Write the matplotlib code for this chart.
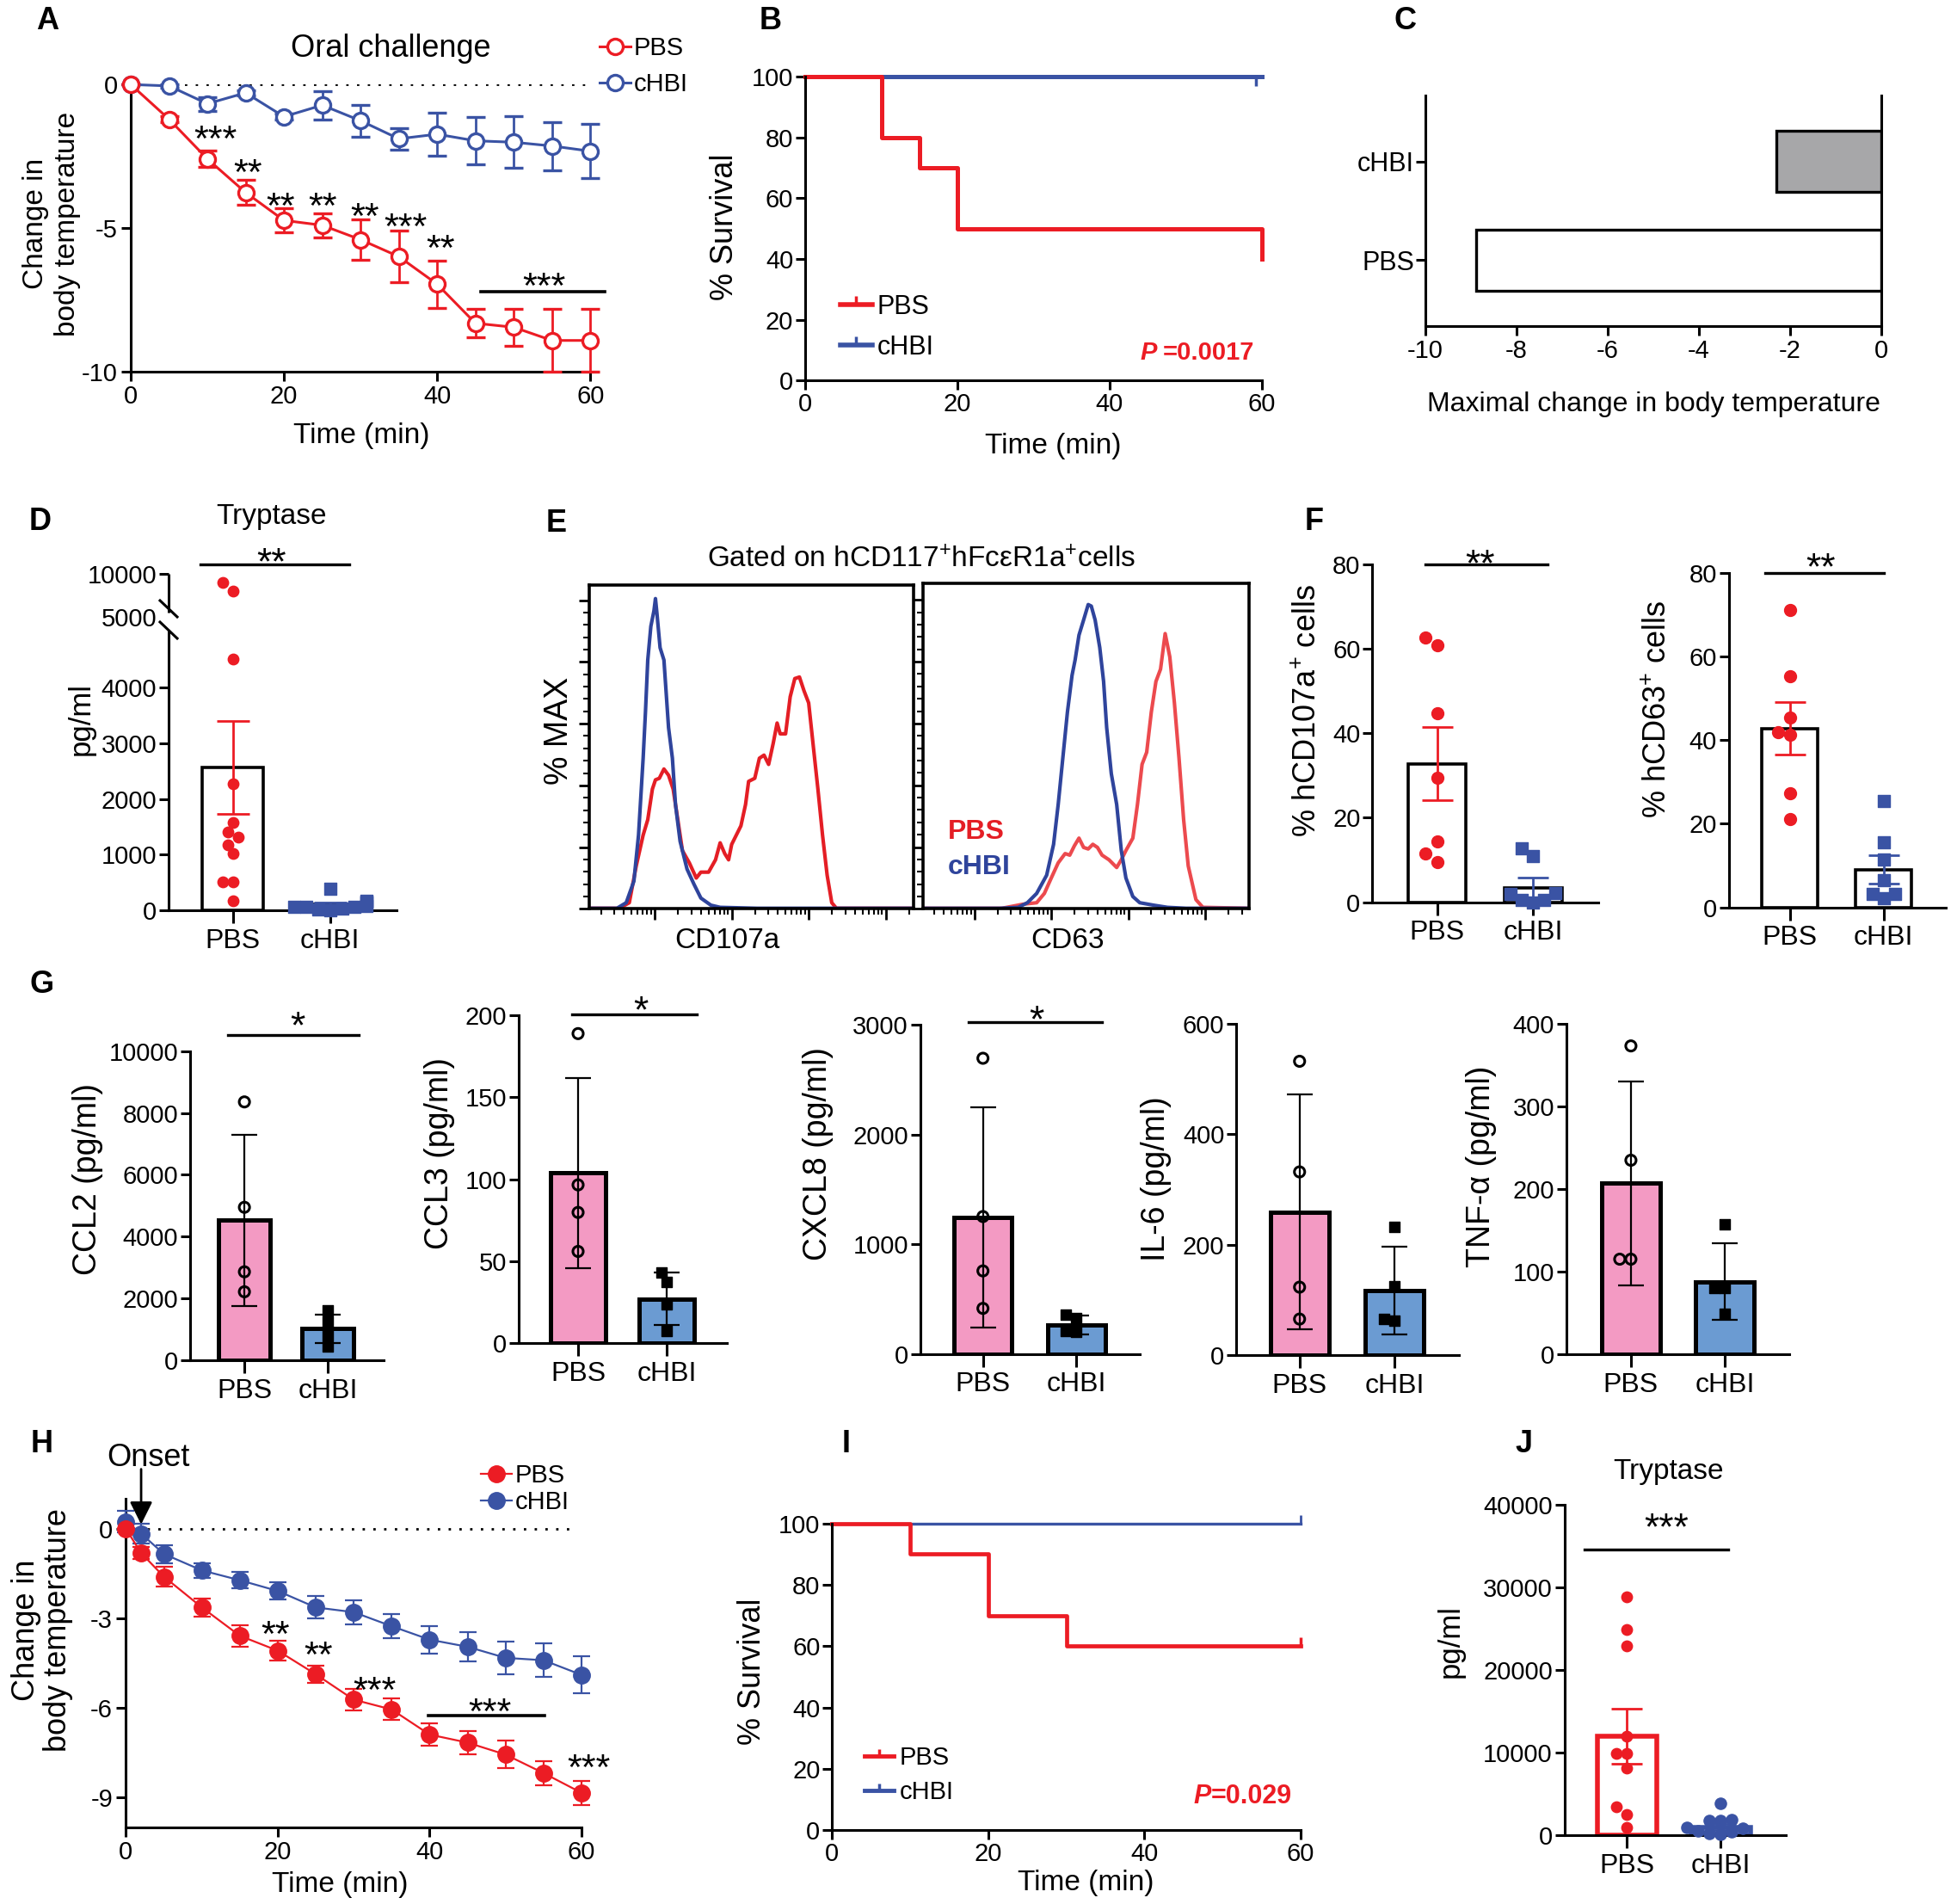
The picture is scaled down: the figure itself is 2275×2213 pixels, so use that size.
import numpy as np
import matplotlib
matplotlib.use("Agg")
import matplotlib.pyplot as plt
from matplotlib.lines import Line2D

plt.rcParams["font.family"] = ["Liberation Sans", "DejaVu Sans"]
plt.rcParams["mathtext.fontset"] = "custom"
plt.rcParams["mathtext.rm"] = "Liberation Sans"
plt.rcParams["mathtext.it"] = "Liberation Sans:italic"
plt.rcParams["mathtext.bf"] = "Liberation Sans:bold"
plt.rcParams["axes.unicode_minus"] = False
plt.rcParams["axes.linewidth"] = 2.2
plt.rcParams["xtick.labelsize"] = 21
plt.rcParams["ytick.labelsize"] = 21

RED = "#EC1C24"
BLUE = "#3A53A4"
PINK = "#F39AC3"
LBLUE = "#6B9BD2"
GREY = "#A7A7A9"

# ---------------- data ----------------
# A: oral challenge, change in body temperature (mean, SEM)
a_time = [0, 5, 10, 15, 20, 25, 30, 35, 40, 45, 50, 55, 60]
a_pbs = [0, -1.21, -2.59, -3.76, -4.73, -4.90, -5.40, -5.99, -6.95, -8.31, -8.45, -8.91, -8.91]
a_pbs_err = [0, 0.10, 0.28, 0.43, 0.42, 0.41, 0.70, 0.90, 0.83, 0.50, 0.65, 1.10, 1.10]
a_chbi = [0, -0.05, -0.67, -0.29, -1.12, -0.72, -1.26, -1.89, -1.73, -1.96, -2.01, -2.14, -2.32]
a_chbi_err = [0, 0.05, 0.24, 0.10, 0.10, 0.50, 0.55, 0.37, 0.75, 0.83, 0.90, 0.84, 0.95]

# B: survival
b_pbs_t = [0, 10, 15, 20, 60]
b_pbs_s = [100, 80, 70, 50, 40]
b_chbi_t = [0, 60]
b_chbi_s = [100, 100]
b_chbi_censor = [59.3]

# C: maximal change in body temperature
c_groups = ["PBS", "cHBI"]
c_max = [-8.88, -2.30]

# D: tryptase (pg/ml)
d_pbs = [166, 513, 513, 1021, 1175, 1313, 1401, 1572, 2279, 4513, 8037, 9003]
d_chbi = [30, 170, 150, 390, 140, 10, 60, 20, 60, 60, 80]
d_mean = [2566, 110]
d_sem = [833, 35]

# E: flow histograms (x in decades, y in % of max)
e1_blue_x = [0, 0.36, 0.48, 0.58, 0.64, 0.70, 0.73, 0.76, 0.80, 0.84, 0.86, 0.88, 0.92, 0.97, 1.03,
             1.08, 1.12, 1.18, 1.27, 1.36, 1.45, 1.58, 1.70, 2.18, 4.21]
e1_blue_y = [0.2, 0.2, 2.0, 9.0, 23.9, 48.8, 63.7, 80.6, 91.5, 96.5, 100.5, 95.5, 84.6, 80.6, 58.7,
             48.8, 33.8, 21.9, 12.9, 8.0, 3.5, 1.2, 0.5, 0.2, 0.2]
e1_red_x = [0, 0.39, 0.52, 0.61, 0.70, 0.76, 0.82, 0.86, 0.91, 0.97, 1.03, 1.09, 1.15, 1.21, 1.30,
            1.39, 1.45, 1.55, 1.64, 1.70, 1.76, 1.81, 1.85, 1.91, 1.97, 2.03, 2.07, 2.15, 2.21,
            2.27, 2.33, 2.39, 2.44, 2.48, 2.55, 2.61, 2.67, 2.73, 2.79, 2.85, 2.91, 2.97, 3.03,
            3.09, 3.15, 3.21, 4.21]
e1_red_y = [0.2, 0.2, 2.0, 13.9, 23.9, 28.9, 38.8, 41.8, 42.3, 45.3, 43.3, 38.8, 28.9, 18.9, 14.9,
            10.0, 11.9, 11.9, 15.9, 21.4, 17.9, 15.9, 20.9, 23.9, 26.9, 33.8, 41.3, 42.3, 48.8,
            49.8, 46.8, 53.7, 60.2, 56.7, 56.7, 68.7, 74.6, 75.1, 70.6, 66.7, 52.7, 38.8, 23.9,
            10.9, 2.0, 0.2, 0.2]
e2_blue_x = [0, 1.0, 1.24, 1.36, 1.48, 1.61, 1.70, 1.76, 1.82, 1.88, 1.94, 1.98, 2.03, 2.09, 2.15,
             2.19, 2.24, 2.30, 2.35, 2.39, 2.45, 2.52, 2.58, 2.64, 2.73, 2.82, 3.00, 3.18, 3.42, 4.24]
e2_blue_y = [0.2, 0.2, 0.5, 2.0, 5.0, 10.9, 20.9, 33.8, 48.8, 63.7, 75.6, 80.6, 88.6, 93.5, 98.5,
             98.0, 93.5, 84.6, 73.6, 58.7, 43.8, 33.8, 18.9, 10.0, 4.0, 2.0, 1.2, 0.5, 0.2, 0.2]
e2_red_x = [0, 1.03, 1.30, 1.48, 1.58, 1.67, 1.76, 1.85, 1.91, 1.97, 2.03, 2.09, 2.15, 2.21, 2.27,
            2.33, 2.42, 2.52, 2.58, 2.64, 2.73, 2.79, 2.85, 2.91, 2.97, 3.03, 3.09, 3.15, 3.21,
            3.27, 3.33, 3.39, 3.45, 3.55, 3.64, 4.24]
e2_red_y = [0.2, 0.2, 1.5, 2.0, 5.0, 10.0, 14.9, 17.9, 17.4, 20.4, 22.9, 19.9, 19.4, 20.9, 19.9,
            17.4, 15.9, 13.4, 15.9, 18.9, 22.9, 33.8, 46.8, 50.7, 63.7, 73.6, 77.6, 89.1, 81.6,
            66.7, 48.8, 28.9, 13.9, 3.0, 0.5, 0.2]

# F: % positive cells
f1_pbs = [62.7, 60.9, 44.8, 29.4, 14.3, 11.5, 9.5]
f1_chbi = [12.8, 11.0, 2.2, 2.0, 0.5, 0.5, 0.0]
f1_mean = [32.8, 3.3]
f1_sem = [8.7, 2.5]
f2_pbs = [71.1, 55.3, 45.4, 41.2, 41.9, 27.4, 21.1]
f2_chbi = [25.4, 15.6, 11.4, 6.5, 2.1, 3.3, 3.2]
f2_mean = [42.8, 9.0]
f2_sem = [6.3, 3.4]

# G: cytokines (pg/ml), mean and SD
ccl2_pbs = [8358, 4945, 2856, 2209]
ccl2_chbi = [1600, 1250, 800, 450]
ccl2_mean = [4527, 1015]
ccl2_sd = [2771, 453]
ccl3_pbs = [188.8, 96.5, 79.7, 55.9]
ccl3_chbi = [43.1, 37.5, 23.4, 7.5]
ccl3_mean = [103.7, 26.8]
ccl3_sd = [58, 16]
cxcl8_pbs = [2697, 1253, 757, 415]
cxcl8_chbi = [360, 330, 210, 200]
cxcl8_mean = [1248, 266]
cxcl8_sd = [1005, 85]
il6_pbs = [531.7, 331.7, 123.3, 65.6]
il6_chbi = [232, 125, 62, 66]
il6_mean = [259.4, 116.7]
il6_sd = [212, 79]
tnf_pbs = [372.9, 234.7, 115.1, 115.1]
tnf_chbi = [157.5, 80.6, 80.6, 49]
tnf_mean = [206.9, 88]
tnf_sd = [123, 46]

# H: change in body temperature after onset
h_time = [0, 2, 5, 10, 15, 20, 25, 30, 35, 40, 45, 50, 55, 60]
h_pbs = [0, -0.81, -1.60, -2.63, -3.58, -4.08, -4.87, -5.72, -6.05, -6.89, -7.16, -7.56, -8.18, -8.84]
h_pbs_err = [0, 0.2, 0.32, 0.3, 0.36, 0.33, 0.29, 0.35, 0.36, 0.37, 0.4, 0.46, 0.41, 0.4]
h_chbi = [0.24, -0.16, -0.84, -1.39, -1.72, -2.08, -2.63, -2.79, -3.26, -3.71, -3.95, -4.32, -4.40, -4.89]
h_chbi_err = [0.36, 0.32, 0.3, 0.25, 0.27, 0.29, 0.37, 0.41, 0.41, 0.46, 0.5, 0.54, 0.56, 0.62]

# I: survival
i_pbs_t = [0, 10, 20, 30, 60]
i_pbs_s = [100, 90, 70, 60, 60]
i_chbi_t = [0, 60]
i_chbi_s = [100, 100]
i_censor = [60]

# J: tryptase (pg/ml)
j_pbs = [28821, 24905, 22890, 11977, 9886, 9962, 8099, 3422, 2548, 951]
j_chbi = [3878, 1900, 1850, 1800, 950, 850, 100, 200, 400, 550]
j_mean = [11977, 1000]
j_sem = [3300, 380]

groups = ["PBS", "cHBI"]

# ---------------- helpers ----------------
W, H = 2275, 2213
fig = plt.figure(figsize=(W / 100, H / 100), dpi=100)


def axes_px(left, top, right, bottom):
    return fig.add_axes([left / W, 1 - bottom / H, (right - left) / W, (bottom - top) / H])


def ftext(x, y, s, **kw):
    kw.setdefault("ha", "center")
    kw.setdefault("va", "center")
    fig.text(x / W, 1 - y / H, s, **kw)


def panel(x, y, s):
    ftext(x, y + 3, s, fontsize=26, fontweight="bold")


def stars_px(x, y, s, size=32):
    base = y + 0.58 * size * 100 / 72
    fig.text(x / W, 1 - base / H, s, fontsize=size, ha="center", va="baseline")


def stars_data(ax, x, y, s, size=31):
    ax.annotate(s, (x, y), xytext=(0, -0.58 * size), textcoords="offset points",
                ha="center", va="baseline", fontsize=size, annotation_clip=False)


def hline_px(x0, x1, y, lw=2.4):
    fig.add_artist(Line2D([x0 / W, x1 / W], [1 - y / H, 1 - y / H], color="k", lw=lw))


def clean(ax, keep_right=False):
    ax.spines["top"].set_visible(False)
    if not keep_right:
        ax.spines["right"].set_visible(False)
    ax.tick_params(length=8, width=2.2, pad=3)


def noclip(cont):
    for art in cont.get_children():
        art.set_clip_on(False)


def swarm(ax, xc, vals, diam):
    pts = ax.transData.transform(np.column_stack([np.full(len(vals), float(xc)), vals]))
    ys = pts[:, 1]
    xpx = ax.transData.transform([[1, 0]])[0, 0] - ax.transData.transform([[0, 0]])[0, 0]
    step = diam * 0.5
    offs = np.zeros(len(vals))
    placed = []
    for i in np.argsort(ys):
        for k in (0, -1, 1, -2, 2, -3, 3, -4, 4, -5, 5, -6, 6):
            x = k * step
            if all((x - px) ** 2 + (ys[i] - py) ** 2 >= (0.95 * diam) ** 2 for px, py in placed):
                break
        offs[i] = x
        placed.append((x, ys[i]))
    return xc + offs / xpx


def cat_axis(ax, fs=23):
    ax.set_xticks([0, 1])
    ax.set_xticklabels(groups, fontsize=fs)
    ax.tick_params(axis="x", length=11, pad=4)


# ---------------- A ----------------
axA = axes_px(152, 98.2, 695.1, 432.1)
axA.set_xlim(0, 61)
axA.set_ylim(-10, 0)
clean(axA)
axA.axhline(0, xmax=59.7 / 61, color="k", ls=(0, (1, 3.5)), lw=2)
for y, e, c in ((a_chbi, a_chbi_err, BLUE), (a_pbs, a_pbs_err, RED)):
    eb = axA.errorbar(a_time, y, yerr=e, color=c, lw=2.2, marker="o", ms=13, mfc="white", mew=2.4,
                      capsize=8, capthick=2, elinewidth=2, zorder=3)
    noclip(eb)
axA.set_xticks([0, 20, 40, 60])
axA.set_yticks([0, -5, -10])
axA.set_yticklabels(["0", "-5", "-10"])
for t, y, s in zip([11, 15.3, 19.6, 25.0, 30.6, 35.9, 40.4, 54],
                   [-1.55, -2.73, -3.9, -3.9, -4.25, -4.6, -5.35, -6.68],
                   ["***", "**", "**", "**", "**", "***", "**", "***"]):
    stars_data(axA, t, y, s)
axA.plot([45.7, 61.9], [-7.2, -7.2], color="k", lw=2.6, clip_on=False)
hA = [Line2D([], [], color=RED, lw=2.2, marker="o", ms=13, mfc="white", mew=2.4),
      Line2D([], [], color=BLUE, lw=2.2, marker="o", ms=13, mfc="white", mew=2.4)]
axA.legend(hA, groups, loc="upper left", bbox_to_anchor=(697 / W, 1 - 42 / H),
           bbox_transform=fig.transFigure, frameon=False, fontsize=21, handlelength=1.25,
           handletextpad=0.1, labelspacing=0.48, borderpad=0, borderaxespad=0)
ftext(454, 57, "Oral challenge", fontsize=26)
ftext(60, 260, "Change in\nbody temperature", fontsize=24, rotation=90, linespacing=1.25)
ftext(420, 506, "Time (min)", fontsize=24)
panel(55, 22, "A")

# ---------------- B ----------------
axB = axes_px(936.2, 89.3, 1466.5, 442.1)
axB.set_xlim(0, 60)
axB.set_ylim(0, 100)
clean(axB)
axB.tick_params(pad=2)
axB.step(b_chbi_t, b_chbi_s, where="post", color=BLUE, lw=3.6, clip_on=False)
axB.plot(b_chbi_censor, [100], ls="none", marker=3, ms=8, mew=2.5, color=BLUE, clip_on=False)
axB.step(b_pbs_t, b_pbs_s, where="post", color=RED, lw=3.6, clip_on=False)
axB.set_xticks([0, 20, 40, 60])
axB.set_yticks([0, 20, 40, 60, 80, 100])
hB = [Line2D([], [], color=RED, lw=4, marker=2, ms=7, mew=2.5),
      Line2D([], [], color=BLUE, lw=4, marker=2, ms=7, mew=2.5)]
axB.legend(hB, groups, loc="upper left", bbox_to_anchor=(977 / W, 1 - 342 / H),
           bbox_transform=fig.transFigure, frameon=False, fontsize=22, handlelength=1.2,
           handletextpad=0.2, labelspacing=0.55, borderpad=0, borderaxespad=0)
pB = fig.text(1458.5 / W, 1 - 410 / H, "=0.0017", color=RED, fontsize=21, fontweight="bold",
              ha="right", va="center")
axB.annotate("P ", xy=(0, 0.5), xycoords=pB, ha="right", va="center", color=RED, fontsize=21,
             fontweight="bold", fontstyle="italic", annotation_clip=False)
ftext(842, 264, "% Survival", fontsize=26, rotation=90)
ftext(1224, 518, "Time (min)", fontsize=24)
panel(896, 22, "B")

# ---------------- C ----------------
axC = axes_px(1656.7, 110.7, 2187, 378.5)
axC.set_xlim(-10, 0)
axC.set_ylim(-0.663, 1.672)
clean(axC, keep_right=True)
axC.barh([0, 1], c_max, height=0.62, color=["white", GREY], edgecolor="k", linewidth=2.4, zorder=2)
axC.set_xticks([-10, -8, -6, -4, -2, 0])
axC.set_xticklabels(["-10", "-8", "-6", "-4", "-2", "0"])
axC.set_yticks([0, 1])
axC.set_yticklabels(c_groups, fontsize=22)
axC.tick_params(axis="y", pad=1)
ftext(1922, 470, "Maximal change in body temperature", fontsize=23)
panel(1634, 22, "C")

# ---------------- D ----------------
d_kv = [-1e5, 4900, 5000, 10000, 1e5]
d_ku = [-1e5, 4900, 5269, 6041, 6041 + 90000 * 0.1544]
axD = axes_px(196, 667.1, 461.3, 1058.2)
axD.set_yscale("function", functions=(lambda v: np.interp(v, d_kv, d_ku),
                                       lambda u: np.interp(u, d_ku, d_kv)))
axD.set_ylim(0, 10000)
axD.set_xlim(-0.66, 1.687)
clean(axD)
axD.set_yticks([0, 1000, 2000, 3000, 4000, 5000, 10000])
axD.set_yticklabels(["0", "1000", "2000", "3000", "4000", "5000", "10000"])
axD.yaxis.get_major_ticks()[5].tick1line.set_visible(False)
axD.tick_params(axis="y", pad=2)
axD.spines["left"].set_bounds(0, 4933)
axD.plot([0, 0], [5511, 10000], color="k", lw=2.2, transform=axD.get_yaxis_transform(),
         clip_on=False, solid_capstyle="butt")
fig.add_artist(Line2D([186 / W, 206 / W], [1 - 698 / H, 1 - 717 / H], color="k", lw=2.2))
fig.add_artist(Line2D([186 / W, 206 / W], [1 - 723 / H, 1 - 742 / H], color="k", lw=2.2))
axD.bar([0, 1], d_mean, width=0.63, color="white", edgecolor="k", linewidth=2.6, zorder=2)
for i, c in enumerate((RED, BLUE)):
    axD.errorbar(i, d_mean[i], yerr=d_sem[i], color=c, lw=2, capsize=14, capthick=2, zorder=3)
axD.scatter(swarm(axD, 0, d_pbs, 12), d_pbs, s=80, color=RED, zorder=4, clip_on=False)
axD.scatter(swarm(axD, 1, d_chbi, 14), d_chbi, s=110, marker="s", color=BLUE, zorder=4,
            clip_on=False)
cat_axis(axD)
ftext(316, 601, "Tryptase", fontsize=24)
hline_px(232.7, 406.2, 656.4)
stars_px(316, 642, "**")
ftext(94, 835, "pg/ml", fontsize=25, rotation=90)
panel(47, 603, "D")

# ---------------- E ----------------
axE1 = axes_px(685, 679.6, 1061.8, 1056.4)
axE2 = axes_px(1072.7, 677.9, 1452, 1056.4)
axE1.set_xlim(0, 4.21)
axE2.set_xlim(0, 4.24)
axE1.set_ylim(0, 105)
axE2.set_ylim(0, 105.4)
axE1.plot(e1_red_x, e1_red_y, color="#E41E25", lw=3)
axE1.plot(e1_blue_x, e1_blue_y, color="#2F449C", lw=3)
axE2.plot(e2_red_x, e2_red_y, color="#EC4A4E", lw=3)
axE2.plot(e2_blue_x, e2_blue_y, color="#2F449C", lw=3)
minor_base = np.log10(np.arange(2, 10))
for ax, first, xmax in ((axE1, 0.85, 4.21), (axE2, 0.67, 4.24)):
    for s in ax.spines.values():
        s.set_linewidth(2.6)
    majors = [first + k for k in range(5) if first + k < xmax]
    minors = [b + m for b in [first - 1] + majors for m in minor_base if 0 < b + m < xmax]
    ax.set_xticks(majors)
    ax.set_xticks(minors, minor=True)
    ax.set_yticks(np.arange(0, 101, 20))
    ax.set_yticks(np.arange(0, 104, 4), minor=True)
    ax.tick_params(which="major", length=9, width=2, labelbottom=False, labelleft=False)
    ax.tick_params(which="minor", length=5, width=1.5)
ftext(1071, 651, "Gated on hCD117$^{+}$hFc\u03b5R1a$^{+}$cells", fontsize=24)
ftext(650, 849, "% MAX", fontsize=27, rotation=90)
ftext(845, 1094, "CD107a", fontsize=24)
ftext(1241, 1094, "CD63", fontsize=24)
ftext(1102, 967, "PBS", fontsize=23, fontweight="bold", color="#E41E25", ha="left")
ftext(1102, 1008, "cHBI", fontsize=23, fontweight="bold", color="#2F449C", ha="left")
panel(647, 606, "E")


# ---------------- F ----------------
def dot_panel(ax, pbs, chbi, mean, err, ylim, yticks, sq=100):
    ax.set_ylim(*ylim)
    clean(ax)
    ax.set_yticks(yticks)
    ax.tick_params(axis="y", pad=2)
    ax.bar([0, 1], mean, width=0.6, color="white", edgecolor="k", linewidth=2.6, zorder=2)
    for i, c in enumerate((RED, BLUE)):
        ax.errorbar(i, mean[i], yerr=err[i], color=c, lw=2, capsize=13, capthick=2, zorder=3)
    ax.scatter(swarm(ax, 0, pbs, 14), pbs, s=100, color=RED, zorder=4, clip_on=False)
    ax.scatter(swarm(ax, 1, chbi, 13), chbi, s=sq, marker="s", color=BLUE, zorder=4,
               clip_on=False)
    cat_axis(ax)


axF1 = axes_px(1595.3, 656.4, 1857.6, 1048.5)
axF1.set_xlim(-0.675, 1.676)
dot_panel(axF1, f1_pbs, f1_chbi, f1_mean, f1_sem, (0, 80), [0, 20, 40, 60, 80])
hline_px(1656.7, 1799, 655.7)
stars_px(1721, 644, "**")
ftext(1520, 826, "% hCD107a$^{+}$ cells", fontsize=26, rotation=90)

axF2 = axes_px(2009.9, 666, 2262, 1054.6)
axF2.set_xlim(-0.652, 1.665)
dot_panel(axF2, f2_pbs, f2_chbi, f2_mean, f2_sem, (0, 80), [0, 20, 40, 60, 80])
hline_px(2051.7, 2189.6, 666.4)
stars_px(2117, 648, "**")
ftext(1927, 824, "% hCD63$^{+}$ cells", fontsize=26, rotation=90)
panel(1528, 603, "F")


# ---------------- G ----------------
def cyto_panel(box, xlim, ylim, yticks, pbs, chbi, mean, sd, ylab, lab_xy):
    ax = axes_px(*box)
    ax.set_xlim(*xlim)
    ax.set_ylim(*ylim)
    clean(ax)
    ax.set_yticks(yticks)
    ax.tick_params(axis="y", pad=2)
    ax.bar([0, 1], mean, width=0.62, color=[PINK, LBLUE], edgecolor="k", linewidth=3.6, zorder=2)
    for i in range(2):
        ax.errorbar(i, mean[i], yerr=sd[i], color="k", lw=1.6, capsize=11, capthick=1.6, zorder=3)
    ax.scatter(swarm(ax, 0, pbs, 13), pbs, s=75, facecolors="none", edgecolors="k",
               linewidths=2.2, zorder=4, clip_on=False)
    ax.scatter(swarm(ax, 1, chbi, 12), chbi, s=85, marker="s", color="k", zorder=4,
               clip_on=False)
    cat_axis(ax)
    ftext(lab_xy[0], lab_xy[1], ylab, fontsize=27, rotation=90)
    return ax


cyto_panel((221, 1221.8, 445.5, 1580.7), (-0.652, 1.667), (0, 10000),
           [0, 2000, 4000, 6000, 8000, 10000], ccl2_pbs, ccl2_chbi, ccl2_mean, ccl2_sd,
           "CCL2 (pg/ml)", (102, 1370))
hline_px(264.5, 417.4, 1202.8)
stars_px(346, 1181, "*")
cyto_panel((603.3, 1180, 845.3, 1561), (-0.666, 1.68), (0, 200), [0, 50, 100, 150, 200],
           ccl3_pbs, ccl3_chbi, ccl3_mean, ccl3_sd, "CCL3 (pg/ml)", (511, 1341))
hline_px(665, 810.2, 1179)
stars_px(745, 1163, "*")
cyto_panel((1069.8, 1191.4, 1324.8, 1573.6), (-0.67, 1.675), (0, 3000), [0, 1000, 2000, 3000],
           cxcl8_pbs, cxcl8_chbi, cxcl8_mean, cxcl8_sd, "CXCL8 (pg/ml)", (951, 1341))
hline_px(1126.2, 1281.4, 1188)
stars_px(1205, 1174, "*")
cyto_panel((1437.2, 1189.6, 1695.8, 1575.3), (-0.668, 1.681), (0, 600), [0, 200, 400, 600],
           il6_pbs, il6_chbi, il6_mean, il6_sd, "IL-6 (pg/ml)", (1344, 1370))
cyto_panel((1820.9, 1189.6, 2080.2, 1574.2), (-0.686, 1.685), (0, 400), [0, 100, 200, 300, 400],
           tnf_pbs, tnf_chbi, tnf_mean, tnf_sd, "TNF-\u03b1 (pg/ml)", (1722, 1356))
panel(49, 1141, "G")

# ---------------- H ----------------
axH = axes_px(146.4, 1742.3, 676, 2124)
axH.set_xlim(0, 60)
axH.set_ylim(-10, 1)
clean(axH)
axH.axhline(0, xmax=59 / 60, color="k", ls=(0, (1, 3.5)), lw=2)
for y, e, c in ((h_chbi, h_chbi_err, BLUE), (h_pbs, h_pbs_err, RED)):
    eb = axH.errorbar(h_time, y, yerr=e, color=c, lw=1.6, marker="o", ms=14, capsize=7,
                      capthick=1.6, elinewidth=1.6, zorder=3)
    noclip(eb)
axH.set_xticks([0, 20, 40, 60])
axH.set_yticks([0, -3, -6, -9])
axH.set_yticklabels(["0", "-3", "-6", "-9"])
for t, y, s in zip([19.7, 25.3, 32.8, 47.9, 60.9], [-3.19, -3.89, -5.08, -5.79, -7.68],
                   ["**", "**", "***", "***", "***"]):
    stars_data(axH, t, y, s)
axH.plot([39.8, 55.1], [-6.26, -6.26], color="k", lw=2.6)
axH.annotate("", xy=(2, 0.15), xytext=(2, 2.0),
             arrowprops=dict(arrowstyle="-|>", color="k", lw=2, mutation_scale=40,
                             shrinkA=0, shrinkB=0), annotation_clip=False)
hH = [Line2D([], [], color=RED, lw=1.6, marker="o", ms=14),
      Line2D([], [], color=BLUE, lw=1.6, marker="o", ms=14)]
axH.legend(hH, groups, loc="upper left", bbox_to_anchor=(559 / W, 1 - 1701 / H),
           bbox_transform=fig.transFigure, frameon=False, fontsize=21, handlelength=1.25,
           handletextpad=0.1, labelspacing=0.12, borderpad=0, borderaxespad=0)
ftext(172, 1694, "Onset", fontsize=26)
ftext(49, 1895, "Change in\nbody temperature", fontsize=26, rotation=90, linespacing=1.1)
ftext(395, 2190, "Time (min)", fontsize=24)
panel(49, 1676, "H")

# ---------------- I ----------------
axI = axes_px(967.3, 1770.8, 1511.7, 2127.1)
axI.set_xlim(0, 60)
axI.set_ylim(0, 100)
clean(axI)
axI.tick_params(pad=2)
axI.step(i_chbi_t, i_chbi_s, where="post", color=BLUE, lw=2.4, clip_on=False)
axI.plot(i_censor, [100], ls="none", marker=2, ms=7, mew=2, color=BLUE, clip_on=False)
axI.step(i_pbs_t, i_pbs_s, where="post", color=RED, lw=3.4, clip_on=False)
axI.plot(i_censor, [60], ls="none", marker=2, ms=7, mew=2.5, color=RED, clip_on=False)
axI.set_xticks([0, 20, 40, 60])
axI.set_yticks([0, 20, 40, 60, 80, 100])
hI = [Line2D([], [], color=RED, lw=3.5, marker=2, ms=6, mew=2.5),
      Line2D([], [], color=BLUE, lw=3.5, marker=2, ms=6, mew=2.5)]
axI.legend(hI, groups, loc="upper left", bbox_to_anchor=(1005 / W, 1 - 2029 / H),
           bbox_transform=fig.transFigure, frameon=False, fontsize=21, handlelength=1.15,
           handletextpad=0.25, labelspacing=0.42, borderpad=0, borderaxespad=0)
pI = fig.text(1501.5 / W, 1 - 2088 / H, "=0.029", color=RED, fontsize=22, fontweight="bold",
              ha="right", va="center")
axI.annotate("P", xy=(0, 0.5), xycoords=pI, ha="right", va="center", color=RED, fontsize=22,
             fontweight="bold", fontstyle="italic", annotation_clip=False)
ftext(874, 1943, "% Survival", fontsize=26, rotation=90)
ftext(1262, 2188, "Time (min)", fontsize=24)
panel(984, 1676, "I")

# ---------------- J ----------------
axJ = axes_px(1818.7, 1748.9, 2075.7, 2133.3)
axJ.set_xlim(-0.667, 1.69)
axJ.set_ylim(0, 40000)
clean(axJ)
axJ.set_yticks([0, 10000, 20000, 30000, 40000])
axJ.tick_params(axis="y", pad=2)
axJ.bar([0, 1], j_mean, width=0.64, color="white", edgecolor=[RED, BLUE], linewidth=4, zorder=2)
for i, c in enumerate((RED, BLUE)):
    axJ.errorbar(i, j_mean[i], yerr=j_sem[i], color=c, lw=2, capsize=13, capthick=2, zorder=3)
axJ.scatter(swarm(axJ, 0, j_pbs, 12), j_pbs, s=80, color=RED, zorder=4, clip_on=False)
axJ.scatter(swarm(axJ, 1, j_chbi, 13), j_chbi, s=90, color=BLUE, zorder=4, clip_on=False)
cat_axis(axJ)
ftext(1939, 1711, "Tryptase", fontsize=24)
hline_px(1842.4, 2009, 1800.8)
stars_px(1937, 1764, "***")
ftext(1686, 1907, "pg/ml", fontsize=25, rotation=90)
panel(1772, 1676, "J")

fig.savefig("out.png", dpi=100)
